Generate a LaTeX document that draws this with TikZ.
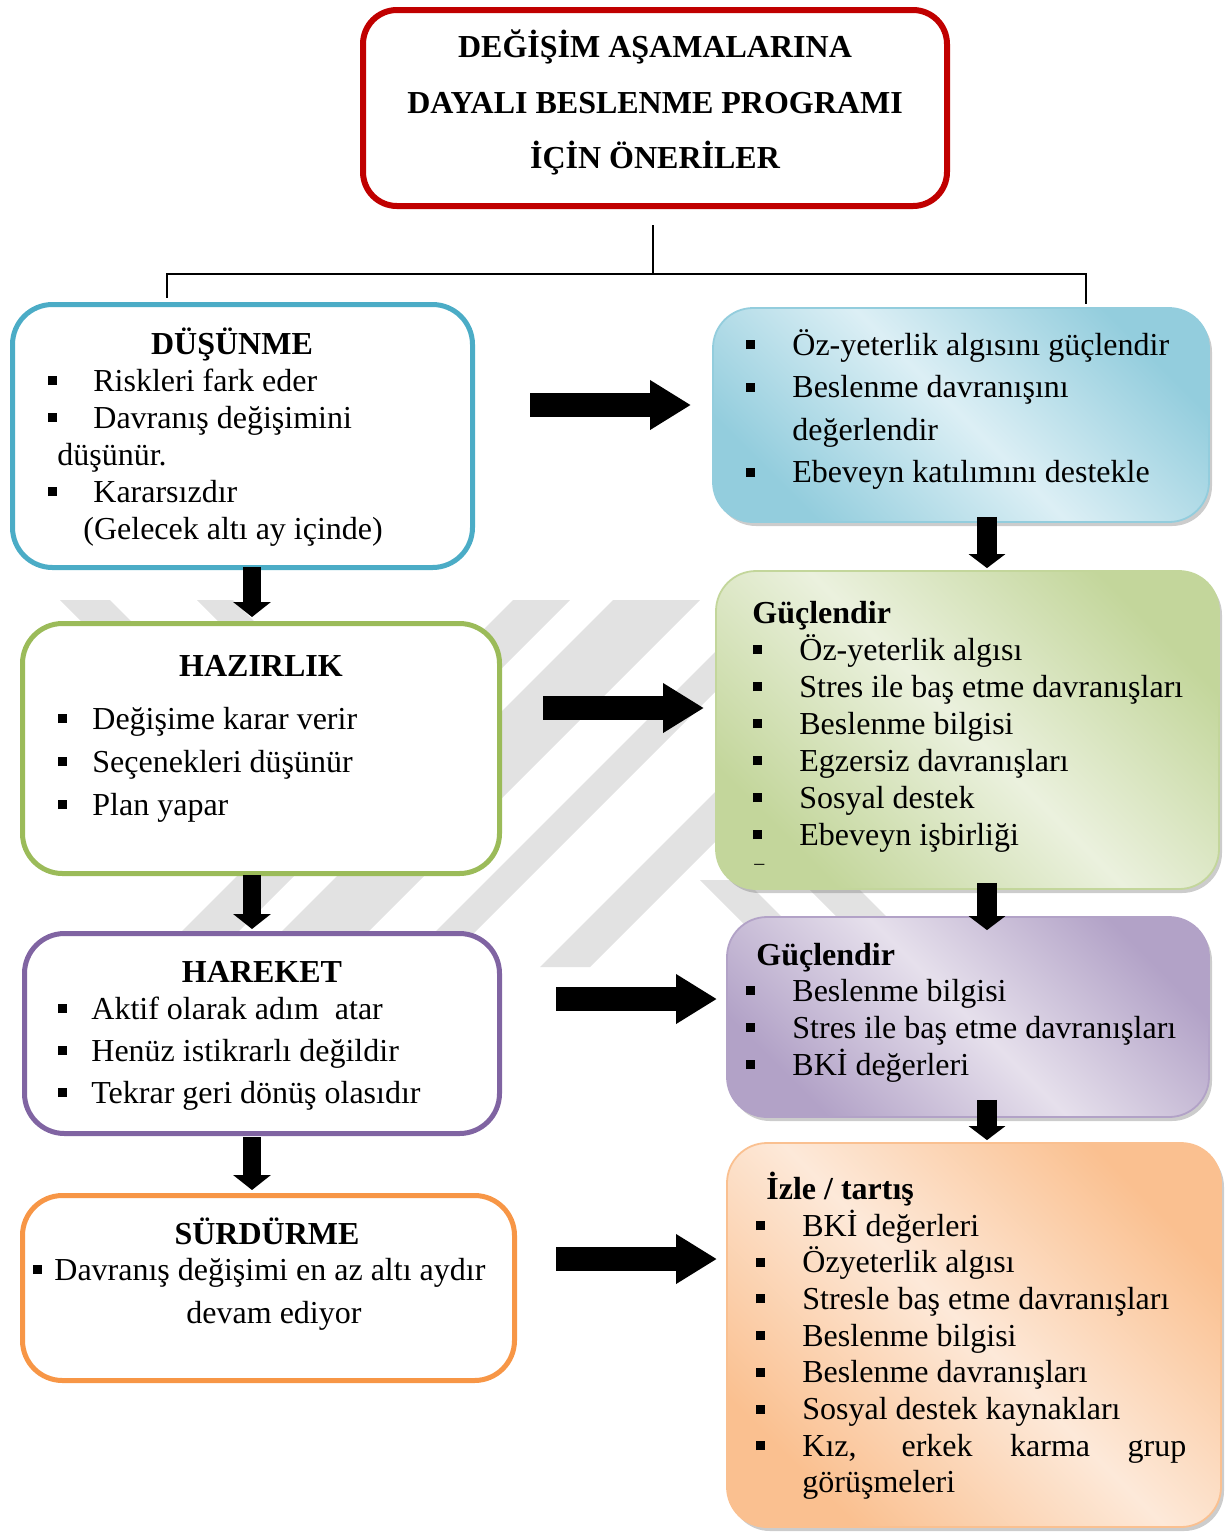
\documentclass[tikz,border=0pt]{standalone}
\usepackage{fontspec}
\setmainfont{Liberation Serif}
\usetikzlibrary{arrows.meta, calc, shadows}
\definecolor{titlered}{HTML}{C00000}
\definecolor{thinkblue}{HTML}{4BACC6}
\definecolor{prepgreen}{HTML}{9BBB59}
\definecolor{actpurple}{HTML}{8064A2}
\definecolor{keeporange}{HTML}{F79646}
\definecolor{skydark}{HTML}{93CDDD}
\definecolor{skylight}{HTML}{DCEFF5}
\definecolor{olivedark}{HTML}{C3D69B}
\definecolor{olivelight}{HTML}{EBF1DE}
\definecolor{lilacdark}{HTML}{B2A2C7}
\definecolor{lilaclight}{HTML}{E6E0EC}
\definecolor{peachdark}{HTML}{FAC090}
\definecolor{peachlight}{HTML}{FDE9D9}
\definecolor{markgray}{HTML}{E2E2E2}
\newcommand{\sqbul}{\rule[3pt]{4.5pt}{4.5pt}}

\tikzset{
  stagebox/.style={draw=#1, line width=2.5pt, rounded corners=20pt, fill=white, inner sep=0pt},
  tipbox/.style 2 args={draw=#1, line width=0.9pt, rounded corners=20pt, inner sep=0pt,
    left color=#1, right color=#1, middle color=#2, shading angle=-45,
    drop shadow={shadow xshift=1.5pt, shadow yshift=-2pt, opacity=0.4}},
  entry/.style={anchor=base west, inner sep=0pt, font=\fontsize{16}{19}\selectfont},
  stagehead/.style={anchor=base, inner sep=0pt, font=\bfseries\fontsize{16}{19}\selectfont},
  tiphead/.style={entry, font=\bfseries\fontsize{16}{19}\selectfont},
  sidearrow/.style={line width=12pt, -{Triangle[length=20.5pt, width=23.5pt]}},
  leftdown/.style={line width=9pt, -{Triangle[length=7.5pt, width=18.5pt]}},
  rightdown/.style={line width=10pt, -{Triangle[length=7pt, width=18pt]}},
}

\begin{document}
\begin{tikzpicture}[x=0.5pt, y=-0.5pt]
  \useasboundingbox (0,0) rectangle (1229,1533);

  % Watermark stripes in the background
  \begin{scope}
    \clip (0,600) rectangle (1229,967);
    \fill[markgray] (60,600) -- (110,600) -- (330,820) -- (280,820) -- cycle;
    \fill[markgray] (197,600) -- (233,600) -- (453,820) -- (417,820) -- cycle;
    \fill[markgray] (513,600) -- (570,600) -- (203,967) -- (146,967) -- cycle;
    \fill[markgray] (613,600) -- (700,600) -- (333,967) -- (246,967) -- cycle;
    \fill[markgray] (767,600) -- (807,600) -- (440,967) -- (400,967) -- cycle;
    \fill[markgray] (907,600) -- (957,600) -- (590,967) -- (540,967) -- cycle;
    \fill[markgray] (700,880) -- (745,880) -- (832,967) -- (787,967) -- cycle;
    \fill[markgray] (800,880) -- (850,880) -- (937,967) -- (887,967) -- cycle;
  \end{scope}

  % Title box
  \node[stagebox=titlered, line width=3pt, rounded corners=17pt, minimum width=292pt, minimum height=98pt] (title) at (655,108) {};
  \node[stagehead] (t1) at (655,57) {DEĞİŞİM AŞAMALARINA};
  \node[stagehead] (t2) at (655,113) {DAYALI BESLENME PROGRAMI};
  \node[stagehead] (t3) at (655,168) {İÇİN ÖNERİLER};

  % Stages on the left
  \node[stagebox=thinkblue, minimum width=230pt, minimum height=131.5pt] (dus) at (242.5,436) {};
  \node[stagebox=prepgreen, minimum width=238.5pt, minimum height=125pt] (haz) at (261,748.5) {};
  \node[stagebox=actpurple, minimum width=237.5pt, minimum height=100pt] (har) at (262,1033.5) {};
  \node[stagebox=keeporange, minimum width=246pt, minimum height=92.5pt] (sur) at (268.5,1288) {};

  % Advice boxes on the right
  \node[tipbox={skydark}{skylight}, minimum width=248pt, minimum height=107pt] (blue) at (961,415) {};
  \node[tipbox={olivedark}{olivelight}, minimum width=251.5pt, minimum height=159pt] (green) at (967.5,730) {};
  \node[tipbox={lilacdark}{lilaclight}, minimum width=241pt, minimum height=100pt] (lilac) at (968,1017) {};
  \node[tipbox={peachdark}{peachlight}, minimum width=247pt, minimum height=192pt] (peach) at (974,1335) {};

  % Tree from the title
  \coordinate (split) at ($(title.south)+(-2,65)$);
  \draw[line width=0.8pt] ($(title.south)+(-2,16)$) -- (split);
  \draw[line width=0.8pt] (split) -| ($(dus.north)+(-75.5,-4)$);
  \draw[line width=0.8pt] (split) -| ($(blue.north)+(125,-3)$);

  % DÜŞÜNME
  \node[stagehead] (dush) at (232,354) {DÜŞÜNME};
  \node[entry] (dus1) at (48,391) {\makebox[22.5pt][l]{\sqbul}Riskleri fark eder};
  \node[entry] (dus2) at (48,428) {\makebox[22.5pt][l]{\sqbul}Davranış değişimini};
  \node[entry] (dus3) at (57,465) {düşünür.};
  \node[entry] (dus4) at (48,502) {\makebox[22.5pt][l]{\sqbul}Kararsızdır};
  \node[entry] (dus5) at (83,539) {(Gelecek altı ay içinde)};

  % HAZIRLIK
  \node[stagehead] (hazh) at (261,676) {HAZIRLIK};
  \foreach \t [count=\i] in {Değişime karar verir, Seçenekleri düşünür, Plan yapar}
    \node[entry] (haz\i) at (58,{729+(\i-1)*43}) {\makebox[17pt][l]{\sqbul}\t};

  % HAREKET
  \node[stagehead] (harh) at (262,982) {HAREKET};
  \foreach \t [count=\i] in {Aktif olarak adım\ \ atar, Henüz istikrarlı değildir, Tekrar geri dönüş olasıdır}
    \node[entry] (har\i) at (58,{1019+(\i-1)*42}) {\makebox[16.5pt][l]{\sqbul}\t};

  % SÜRDÜRME
  \node[stagehead] (surh) at (267,1244) {SÜRDÜRME};
  \node[entry] (sur1) at (33,1280) {\makebox[10.5pt][l]{\sqbul}Davranış değişimi en az altı aydır};
  \node[stagehead, font=\fontsize{16}{19}\selectfont] (sur2) at (274,1323) {devam ediyor};

  % Blue advice
  \node[entry] (blue1) at (746,355) {\makebox[23pt][l]{\sqbul}Öz-yeterlik algısını güçlendir};
  \node[entry] (blue2) at (746,397.5) {\makebox[23pt][l]{\sqbul}Beslenme davranışını};
  \node[entry] (blue3) at (792,440) {değerlendir};
  \node[entry] (blue4) at (746,482.5) {\makebox[23pt][l]{\sqbul}Ebeveyn katılımını destekle};

  % Green advice
  \node[tiphead] (greenh) at (752,623) {Güçlendir};
  \foreach \t [count=\i] in {Öz-yeterlik algısı, Stres ile baş etme davranışları, Beslenme bilgisi,
      Egzersiz davranışları, Sosyal destek, Ebeveyn işbirliği}
    \node[entry] (green\i) at (753,{660+(\i-1)*37}) {\makebox[23pt][l]{\sqbul}\t};
  \node[entry, font=\fontsize{10}{12}\selectfont] (greendash) at (754,869) {–};

  % Lilac advice
  \node[tiphead] (lilach) at (756,965) {Güçlendir};
  \foreach \t [count=\i] in {Beslenme bilgisi, Stres ile baş etme davranışları, BKİ değerleri}
    \node[entry] (lilac\i) at (746,{1001+(\i-1)*37}) {\makebox[23pt][l]{\sqbul}\t};

  % Peach advice
  \node[tiphead] (peachh) at (766,1199) {İzle / tartış};
  \foreach \t [count=\i] in {BKİ değerleri, Özyeterlik algısı, Stresle baş etme davranışları,
      Beslenme bilgisi, Beslenme davranışları, Sosyal destek kaynakları,
      {\makebox[192pt][s]{Kız, erkek karma grup}}}
    \node[entry] (peach\i) at (756,{1236+(\i-1)*36.7}) {\makebox[23pt][l]{\sqbul}\t};
  \node[entry] (peach8) at (802,1492) {görüşmeleri};

  % Arrows from stages to advice
  \coordinate (a1s) at (530,405);   \coordinate (a1e) at (691,405);
  \coordinate (a2s) at (543,708);   \coordinate (a2e) at (704,708);
  \coordinate (a3s) at (556,999);   \coordinate (a3e) at (717,999);
  \coordinate (a4s) at (556,1259);  \coordinate (a4e) at (717,1259);
  \foreach \k in {1,...,4}
    \draw[sidearrow] (a\k s) -- (a\k e);

  % Arrows down the stages
  \draw[leftdown] ($(dus.south)+(9.5,-3)$) -- ($(haz.north)+(-9,-4)$);
  \draw[leftdown] ($(haz.south)+(-9,-1)$) -- ($(har.north)+(-10,-2)$);
  \draw[leftdown] ($(har.south)+(-10,1)$) -- ($(sur.north)+(-16.5,-3)$);

  % Arrows down the advice
  \draw[rightdown] ($(blue.south)+(26,-6)$) -- ($(green.north)+(19.5,-2)$);
  \draw[rightdown] ($(green.south)+(19.5,-7)$) -- ($(lilac.north)+(19,14)$);
  \draw[rightdown] ($(lilac.south)+(19,-18)$) -- ($(peach.north)+(13,-2)$);
\end{tikzpicture}
\end{document}
